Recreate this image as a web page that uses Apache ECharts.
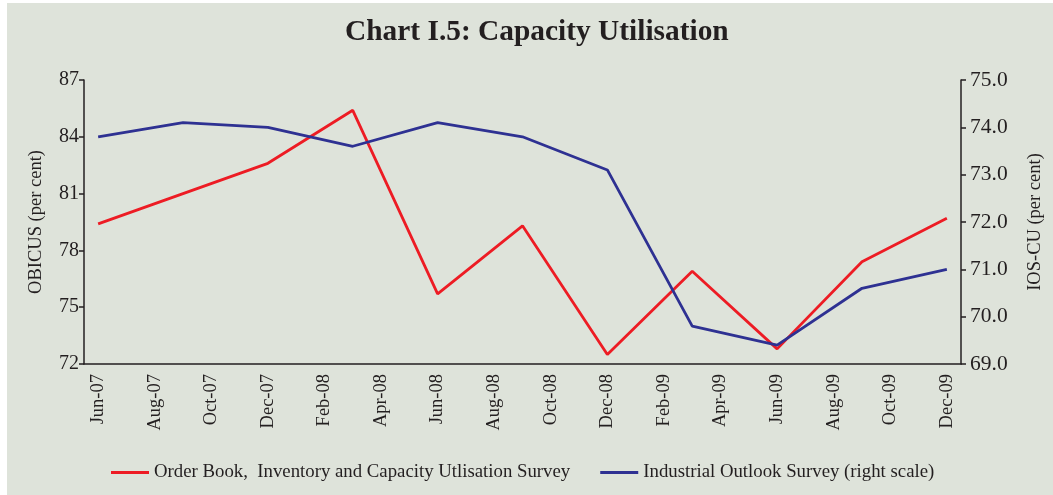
<!DOCTYPE html>
<html><head><meta charset="utf-8">
<script src="https://cdn.jsdelivr.net/npm/echarts@6/dist/echarts.min.js"></script>
<style>
html,body{margin:0;padding:0;background:#ffffff;width:1053px;height:495px;overflow:hidden}
#c{position:absolute;left:7px;top:3px;width:1046px;height:492px;background:#dee3da}
</style></head>
<body><div id="c"></div>
<script>
const months = ['Jun-07','Jul-07','Aug-07','Sep-07','Oct-07','Nov-07','Dec-07','Jan-08','Feb-08','Mar-08','Apr-08','May-08','Jun-08','Jul-08','Aug-08','Sep-08','Oct-08','Nov-08','Dec-08','Jan-09','Feb-09','Mar-09','Apr-09','May-09','Jun-09','Jul-09','Aug-09','Sep-09','Oct-09','Nov-09','Dec-09'];
const quarters = ['Jun-07','Sep-07','Dec-07','Mar-08','Jun-08','Sep-08','Dec-08','Mar-09','Jun-09','Sep-09','Dec-09'];
const obicus = [79.4, 81.0, 82.6, 85.4, 75.7, 79.3, 72.5, 76.9, 72.8, 77.4, 79.7];
const ioscu  = [73.8, 74.1, 74.0, 73.6, 74.1, 73.8, 73.1, 69.8, 69.4, 70.6, 71.0];

const F = '"Liberation Serif","Times New Roman",serif';
const C = '#231f20';
const chart = echarts.init(document.getElementById('c'));
chart.setOption({
  animation:false,
  title:{text:'Chart I.5: Capacity Utilisation',left:333,top:10,
    textStyle:{fontFamily:F,fontWeight:'bold',fontSize:29.4,color:C}},
  legend:{top:455,left:99,itemWidth:38,itemHeight:3,itemGap:30,icon:'rect',
    textStyle:{fontFamily:F,fontSize:18.8,color:C},
    data:['Order Book,  Inventory and Capacity Utlisation Survey','Industrial Outlook Survey (right scale)']},
  grid:{left:77,right:91,top:77,bottom:131},
  xAxis:{type:'category',data:months,boundaryGap:true,
    axisLine:{lineStyle:{color:C,width:1.5}},
    axisTick:{interval:1,length:6,lineStyle:{color:C,width:1.5}},
    axisLabel:{interval:1,rotate:90,fontFamily:F,fontSize:18.5,color:C,margin:10}},
  yAxis:[
    {type:'value',min:72,max:87,interval:3,name:'OBICUS (per cent)',nameLocation:'middle',nameGap:38,
     nameTextStyle:{fontFamily:F,fontSize:18.5,color:C},
     axisLine:{show:true,lineStyle:{color:C,width:1.5}},
     axisTick:{show:true,length:5,lineStyle:{color:C,width:1.5}},
     splitLine:{show:false},
     axisLabel:{fontFamily:F,fontSize:20,color:C,margin:5}},
    {type:'value',min:69,max:75,interval:1,name:'IOS-CU (per cent)',nameLocation:'middle',nameGap:65,nameRotate:90,
     nameTextStyle:{fontFamily:F,fontSize:18.5,color:C},
     axisLine:{show:true,lineStyle:{color:C,width:1.5}},
     axisTick:{show:true,length:5,lineStyle:{color:C,width:1.5}},
     splitLine:{show:false},
     axisLabel:{fontFamily:F,fontSize:21.5,color:C,margin:9,formatter:v=>v.toFixed(1)}}
  ],
  series:[
    {name:'Order Book,  Inventory and Capacity Utlisation Survey',type:'line',yAxisIndex:0,
     data:quarters.map((q,i)=>[q,obicus[i]]),showSymbol:false,
     lineStyle:{color:'#ed1c24',width:2.8},itemStyle:{color:'#ed1c24'}},
    {name:'Industrial Outlook Survey (right scale)',type:'line',yAxisIndex:1,
     data:quarters.map((q,i)=>[q,ioscu[i]]),showSymbol:false,
     lineStyle:{color:'#2e3192',width:2.8},itemStyle:{color:'#2e3192'}}
  ]
});
</script></body></html>
